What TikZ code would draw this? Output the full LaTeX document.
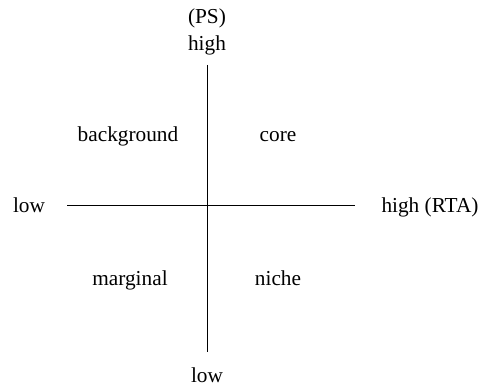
\documentclass[tikz,border=0pt]{standalone}
\usepackage{fontspec}
\setmainfont{Liberation Serif}
\begin{document}
\begin{tikzpicture}[x=1pt,y=-1pt,
  lbl/.style={font=\fontsize{21.3}{24}\selectfont, inner sep=0pt, anchor=base},
  axis/.style={draw=black, line width=1pt}]
\useasboundingbox (0,0) rectangle (480,387);
\coordinate (vt) at (207,65);
\coordinate (vb) at (207,352);
\coordinate (hl) at (67,206);
\coordinate (hr) at (355,206);
\draw[axis] (vt) -- (vb);
\draw[axis] (hl) -- (hr);
\node[lbl] (ps) at (207,24) {(PS)};
\node[lbl] (hightop) at (207,51) {high};
\node[lbl] (bg) at (128,142) {background};
\node[lbl] (core) at (278,142) {core};
\node[lbl] (lowleft) at (29,213) {low};
\node[lbl] (highright) at (430,213) {high (RTA)};
\node[lbl] (marg) at (130,286) {marginal};
\node[lbl] (niche) at (278,286) {niche};
\node[lbl, text depth=0pt] (lowbot) at (207,383) {low};
\end{tikzpicture}
\end{document}
